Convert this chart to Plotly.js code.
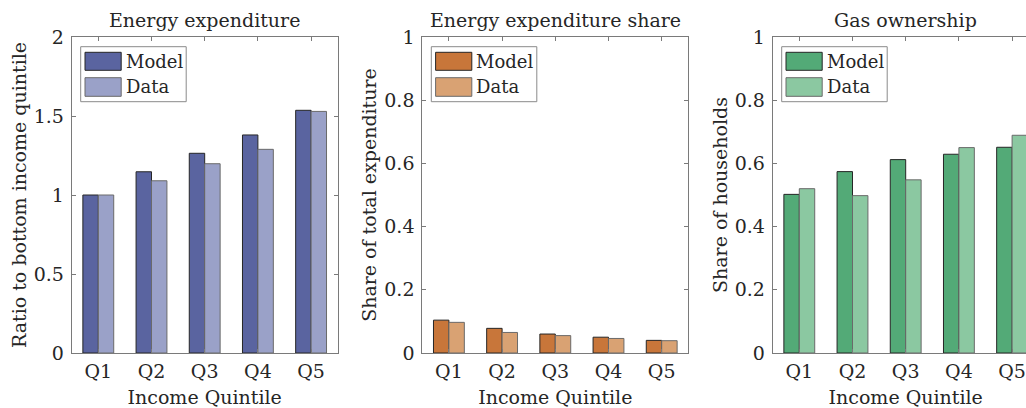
<!DOCTYPE html>
<html>
<head>
<meta charset="utf-8">
<script src="https://cdn.plot.ly/plotly-3.0.1.min.js"></script>
<style>
html,body{margin:0;padding:0;overflow:hidden;background:#fff;}
#chart{width:1040px;height:408px;}
</style>
</head>
<body>
<div id="chart"></div>
<script>
// ---- data ----
const quintiles = ["Q1","Q2","Q3","Q4","Q5"];
const expModel = [1.00, 1.147, 1.264, 1.38, 1.536];
const expData  = [1.00, 1.09, 1.198, 1.289, 1.529];
const shareModel = [0.104, 0.078, 0.060, 0.050, 0.040];
const shareData  = [0.097, 0.065, 0.055, 0.046, 0.039];
const gasModel = [0.502, 0.574, 0.612, 0.629, 0.651];
const gasData  = [0.520, 0.498, 0.548, 0.650, 0.689];
const panelTitles = ["Energy expenditure", "Energy expenditure share", "Gas ownership"];
const yTitles = ["Ratio to bottom income quintile", "Share of total expenditure", "Share of households"];
const xTitle = "Income Quintile";
const seriesNames = ["Model", "Data"];

// ---- styling ----
const W = 1040, H = 408;
const FONT = "DejaVu Serif";
const FS = 19, LFS = 18;
const TXT = "#262626";
const AX = "#7a7a7a";
const colors = [
  {model:"#5a64a0", data:"#9aa1c8"},
  {model:"#c8763a", data:"#d9a273"},
  {model:"#53aa77", data:"#8bc8a1"}
];
const lefts = [71.7, 422.3, 772.7];
const pw = 266, pTop = 37, pBottom = 353;
const px = v => v / W;
const py = v => 1 - v / H;

const seriesSets = [[expModel, expData],[shareModel, shareData],[gasModel, gasData]];
const traces = [];
seriesSets.forEach((s, i) => {
  const sfx = i === 0 ? "" : String(i+1);
  traces.push({type:"bar", x:quintiles, y:s[0], name:seriesNames[0], xaxis:"x"+sfx, yaxis:"y"+sfx,
    marker:{color:colors[i].model, line:{color:"#262626", width:1}}, showlegend:false, hoverinfo:"y"});
  traces.push({type:"bar", x:quintiles, y:s[1], name:seriesNames[1], xaxis:"x"+sfx, yaxis:"y"+sfx,
    marker:{color:colors[i].data, line:{color:"#6a6a6a", width:1}}, showlegend:false, hoverinfo:"y"});
});

const layout = {
  width: W, height: H,
  margin:{l:0,r:0,t:0,b:0},
  paper_bgcolor:"#fff", plot_bgcolor:"#fff",
  barmode:"group", bargap:0.42, bargroupgap:0,
  font:{family:FONT, size:FS, color:TXT},
  shapes:[], annotations:[]
};

const yRanges = [[0,2],[0,1],[0,1]];
const yDticks = [0.5, 0.2, 0.2];
for (let i = 0; i < 3; i++) {
  const sfx = i === 0 ? "" : String(i+1);
  const L = lefts[i];
  layout["xaxis"+sfx] = {
    domain:[px(L), px(L+pw)], anchor:"y"+sfx, range:[-0.5,4.5], type:"category",
    showline:true, linecolor:AX, linewidth:1, mirror:"ticks",
    ticks:"inside", ticklen:4, tickcolor:AX, showgrid:false, zeroline:false,
    tickfont:{family:FONT, size:FS, color:TXT}, ticklabelstandoff:1,
    title:{text:xTitle, font:{family:FONT, size:FS, color:TXT}, standoff:10},
    automargin:false, fixedrange:true
  };
  layout["yaxis"+sfx] = {
    domain:[py(pBottom), py(pTop)], anchor:"x"+sfx, range:yRanges[i], dtick:yDticks[i], tick0:0,
    showline:true, linecolor:AX, linewidth:1, mirror:"ticks",
    ticks:"inside", ticklen:4, tickcolor:AX, showgrid:false, zeroline:false,
    tickfont:{family:FONT, size:FS, color:TXT}, ticklabelstandoff:3,
    title:{text:yTitles[i], font:{family:FONT, size:FS, color:TXT}, standoff:2},
    automargin:false, fixedrange:true
  };
  // panel title
  layout.annotations.push({xref:"paper", yref:"paper", x:px(L+pw/2), y:py(20), text:panelTitles[i],
    showarrow:false, xanchor:"center", yanchor:"middle", font:{family:FONT, size:FS, color:TXT}});
  // legend box
  layout.shapes.push({type:"rect", xref:"paper", yref:"paper", x0:px(L+9), x1:px(L+114.5), y0:py(46.7), y1:py(101.7),
    line:{color:"#8a8a8a", width:1}, fillcolor:"#fff", layer:"above"});
  layout.shapes.push({type:"rect", xref:"paper", yref:"paper", x0:px(L+13.3), x1:px(L+49.5), y0:py(52.3), y1:py(70.3),
    line:{color:"#262626", width:1}, fillcolor:colors[i].model, layer:"above"});
  layout.shapes.push({type:"rect", xref:"paper", yref:"paper", x0:px(L+13.3), x1:px(L+49.5), y0:py(77.7), y1:py(96.3),
    line:{color:"#6a6a6a", width:1}, fillcolor:colors[i].data, layer:"above"});
  layout.annotations.push({xref:"paper", yref:"paper", x:px(L+52), y:py(61.5), text:seriesNames[0],
    showarrow:false, xanchor:"left", yanchor:"middle", font:{family:FONT, size:LFS, color:TXT}});
  layout.annotations.push({xref:"paper", yref:"paper", x:px(L+52), y:py(86.5), text:seriesNames[1],
    showarrow:false, xanchor:"left", yanchor:"middle", font:{family:FONT, size:LFS, color:TXT}});
}

Plotly.newPlot("chart", traces, layout, {displayModeBar:false, staticPlot:true});
</script>
</body>
</html>
